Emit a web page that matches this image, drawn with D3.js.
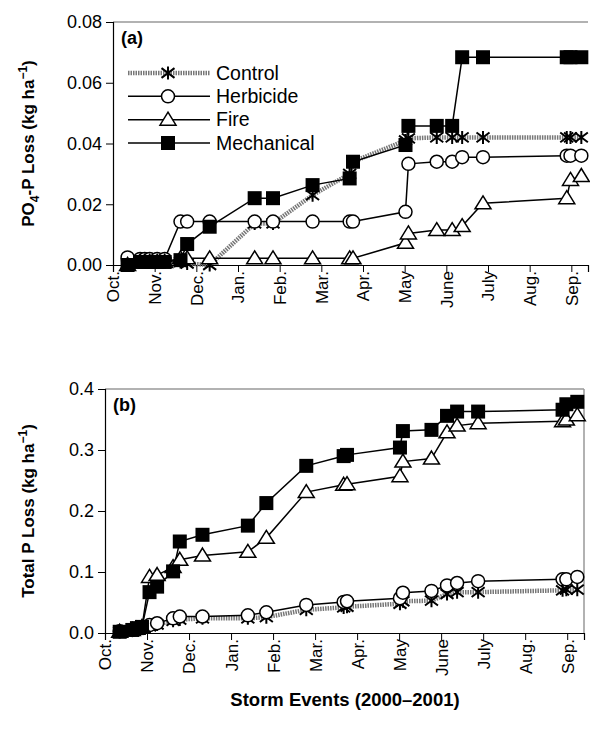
<!DOCTYPE html>
<html>
<head>
<meta charset="utf-8">
<script src="https://cdn.jsdelivr.net/npm/d3@7"></script>
<style>
  body { margin: 0; background: #fff; }
  text { font-family: Arial, "Liberation Sans", sans-serif; }
</style>
</head>
<body>
<div id="chart"></div>
<script>
// storm events, in months since Oct. 1 2000
const events = [0.35, 0.65, 0.76, 0.88, 1.06, 1.24, 1.62, 1.78, 2.32, 3.40, 3.84, 4.79, 5.68, 5.76, 7.02, 7.09, 7.77, 8.14, 8.38, 8.88, 10.89, 10.98, 11.24];
const months = ["Oct.", "Nov.", "Dec.", "Jan.", "Feb.", "Mar.", "Apr.", "May", "June", "July", "Aug.", "Sep."];
const treatments = ["Control", "Herbicide", "Fire", "Mechanical"];

// (a) PO4-P loss
const po4Control    = [0, 0.001, 0.001, 0.001, 0.001, 0.001, 0.001, 0.0005, 0, 0.0137, 0.0137, 0.023, 0.030, 0.034, 0.041, 0.0417, 0.042, 0.042, 0.042, 0.042, 0.042, 0.042, 0.042];
const po4Herbicide  = [0.0025, 0.002, 0.002, 0.002, 0.002, 0.002, 0.0143, 0.0143, 0.0143, 0.0143, 0.0143, 0.0143, 0.0143, 0.0143, 0.0175, 0.0333, 0.034, 0.034, 0.0355, 0.0355, 0.036, 0.036, 0.036];
const po4Fire       = [0, 0.001, 0.001, 0.001, 0.001, 0.001, 0.0022, 0.0022, 0.0022, 0.0022, 0.0022, 0.0022, 0.0022, 0.0022, 0.0073, 0.0104, 0.0115, 0.0115, 0.0128, 0.0203, 0.022, 0.028, 0.0293];
const po4Mechanical = [0, 0.001, 0.001, 0.001, 0.001, 0.001, 0.0016, 0.0069, 0.0126, 0.022, 0.022, 0.0263, 0.0285, 0.034, 0.0395, 0.0458, 0.0458, 0.0458, 0.0684, 0.0684, 0.0684, 0.0684, 0.0684];

// (b) Total P loss
const tpControl    = [0.002, 0.004, 0.006, 0.008, 0.011, 0.014, 0.020, 0.022, 0.024, 0.024, 0.026, 0.038, 0.042, 0.043, 0.048, 0.052, 0.053, 0.064, 0.067, 0.067, 0.070, 0.071, 0.071];
const tpHerbicide  = [0.003, 0.005, 0.007, 0.009, 0.013, 0.016, 0.024, 0.027, 0.027, 0.029, 0.034, 0.046, 0.051, 0.052, 0.057, 0.066, 0.069, 0.078, 0.082, 0.085, 0.088, 0.088, 0.092];
const tpFire       = [0.002, 0.005, 0.007, 0.010, 0.092, 0.095, 0.108, 0.120, 0.127, 0.133, 0.156, 0.231, 0.243, 0.244, 0.257, 0.281, 0.286, 0.329, 0.340, 0.344, 0.347, 0.350, 0.357];
const tpMechanical = [0.002, 0.005, 0.008, 0.010, 0.067, 0.076, 0.101, 0.150, 0.161, 0.176, 0.213, 0.274, 0.290, 0.292, 0.304, 0.331, 0.333, 0.356, 0.363, 0.363, 0.366, 0.375, 0.379];

const yTicksA = [0, 0.02, 0.04, 0.06, 0.08];
const yTicksB = [0, 0.1, 0.2, 0.3, 0.4];

const W = 590, H = 731;
const svg = d3.select("#chart").append("svg")
    .attr("width", W)
    .attr("height", H);

function lineStyle(sel, name) {
    if (name === "Control") {
        sel.attr("stroke", "#777").attr("stroke-width", 4.5).attr("stroke-dasharray", "1.5,1");
    } else {
        sel.attr("stroke", "#000").attr("stroke-width", 1.5);
    }
}

function drawMarker(g, name, x, y) {
    if (name === "Control") {
        const r = 6.5;
        g.append("path")
            .attr("d", `M${x},${y-r}L${x},${y+r}M${x-r},${y-r*0.75}L${x+r},${y+r*0.75}M${x-r},${y+r*0.75}L${x+r},${y-r*0.75}`)
            .attr("stroke", "#000").attr("stroke-width", 2).attr("fill", "none");
    } else if (name === "Herbicide") {
        g.append("circle").attr("cx", x).attr("cy", y).attr("r", 6.5)
            .attr("fill", "#fff").attr("stroke", "#000").attr("stroke-width", 1.5);
    } else if (name === "Fire") {
        g.append("path")
            .attr("d", `M${x},${y-7.5}L${x+8},${y+5.5}L${x-8},${y+5.5}Z`)
            .attr("fill", "#fff").attr("stroke", "#000").attr("stroke-width", 1.5);
    } else {
        g.append("rect").attr("x", x - 7).attr("y", y - 7).attr("width", 14).attr("height", 14)
            .attr("fill", "#000");
    }
}

function panel(opts) {
    const { left, top, right, bottom, yMax, yTicks, fmt, series, tag, title, rightBorder } = opts;
    const x = d3.scaleLinear().domain([0, 11.4]).range([left, right]);
    const y = d3.scaleLinear().domain([0, yMax]).range([bottom, top]);
    const g = svg.append("g");

    // plot-area frame (top/right in gray)
    g.append("line").attr("x1", left).attr("x2", right).attr("y1", top).attr("y2", top)
        .attr("stroke", "#999").attr("stroke-width", 1.5);
    if (rightBorder) {
        g.append("line").attr("x1", right).attr("x2", right).attr("y1", top).attr("y2", bottom)
            .attr("stroke", "#999").attr("stroke-width", 1.5);
    }

    // y axis
    const yAxis = d3.axisLeft(y).tickValues(yTicks).tickFormat(fmt).tickSize(7).tickPadding(4);
    const ya = g.append("g").attr("transform", `translate(${left},0)`).call(yAxis);
    ya.select(".domain").attr("stroke", "#000").attr("stroke-width", 1.2);
    ya.selectAll(".tick line").attr("stroke", "#000");
    ya.selectAll("text").attr("font-size", 18).attr("fill", "#000")
        .attr("font-family", "Arial, 'Liberation Sans', sans-serif");

    // x axis (month ticks)
    const xAxis = d3.axisBottom(x).tickValues(d3.range(months.length)).tickFormat(i => months[i]).tickSize(7).tickPadding(4);
    const xa = g.append("g").attr("transform", `translate(0,${bottom})`).call(xAxis);
    xa.select(".domain").attr("stroke", "#000").attr("stroke-width", 1.2);
    xa.selectAll(".tick line").attr("stroke", "#000");
    xa.selectAll(".tick").filter(i => i === 0).select("line").remove();
    xa.selectAll("text")
        .attr("font-size", 17).attr("fill", "#000")
        .attr("font-family", "Arial, 'Liberation Sans', sans-serif")
        .attr("transform", "rotate(-90)")
        .attr("text-anchor", "end")
        .attr("dy", "0.35em")
        .attr("x", -6).attr("y", 0);

    // series: lines first, then markers
    const line = d3.line().x((d, i) => x(events[i])).y(d => y(d));
    treatments.forEach(name => {
        g.append("path").datum(series[name]).attr("d", line).attr("fill", "none").call(lineStyle, name);
    });
    treatments.forEach(name => {
        const mg = g.append("g");
        series[name].forEach((v, i) => drawMarker(mg, name, x(events[i]), y(v)));
    });

    // panel tag
    g.append("text").attr("x", left + 8).attr("y", top + 22)
        .attr("font-family", "'Times New Roman', 'Liberation Serif', serif")
        .attr("font-weight", "bold").attr("font-size", 18).text(tag);

    // y title
    const t = g.append("text")
        .attr("transform", `translate(${34},${(top + bottom) / 2}) rotate(-90)`)
        .attr("text-anchor", "middle")
        .attr("font-weight", "bold").attr("font-size", 17);
    title(t);
    return g;
}

panel({
    left: 113, top: 22, right: 588, bottom: 265, yMax: 0.08, yTicks: yTicksA,
    fmt: d3.format(".2f"), tag: "(a)", rightBorder: false,
    series: { Control: po4Control, Herbicide: po4Herbicide, Fire: po4Fire, Mechanical: po4Mechanical },
    title: t => {
        t.append("tspan").text("PO");
        t.append("tspan").attr("font-size", 12).attr("dy", 5).text("4");
        t.append("tspan").attr("dy", -5).text("-P Loss (kg ha");
        t.append("tspan").attr("font-size", 12).attr("dy", -7).text("\u22121");
        t.append("tspan").attr("dy", 7).text(")");
    }
});

panel({
    left: 105, top: 389, right: 584, bottom: 633, yMax: 0.4, yTicks: yTicksB,
    fmt: d3.format(".1f"), tag: "(b)", rightBorder: true,
    series: { Control: tpControl, Herbicide: tpHerbicide, Fire: tpFire, Mechanical: tpMechanical },
    title: t => {
        t.append("tspan").text("Total P Loss (kg ha");
        t.append("tspan").attr("font-size", 12).attr("dy", -7).text("\u22121");
        t.append("tspan").attr("dy", 7).text(")");
    }
});

// legend in panel (a)
const legendY = d3.scalePoint().domain(treatments).range([73, 143]);
const lg = svg.append("g");
treatments.forEach(name => {
    const yy = legendY(name);
    lg.append("line").attr("x1", 128).attr("x2", 210).attr("y1", yy).attr("y2", yy).call(lineStyle, name);
    drawMarker(lg, name, 168, yy);
    lg.append("text").attr("x", 216).attr("y", yy).attr("dy", "0.35em")
        .attr("font-size", 19.5).text(name);
});

// x title
svg.append("text").attr("x", 345).attr("y", 706).attr("text-anchor", "middle")
    .attr("font-weight", "bold").attr("font-size", 18.5).text("Storm Events (2000\u20132001)");
</script>
</body>
</html>
